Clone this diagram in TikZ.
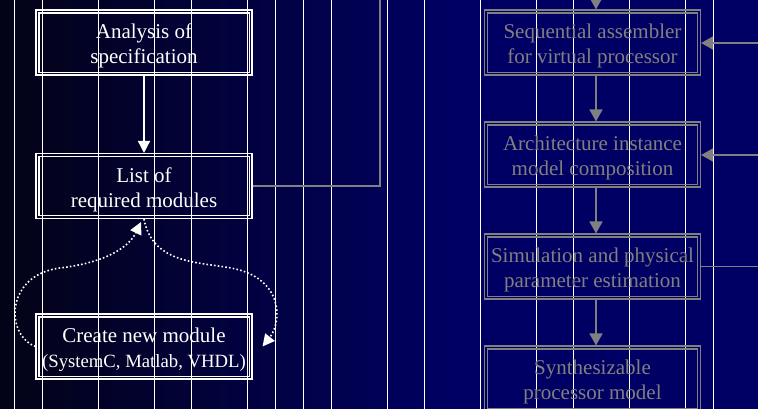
\documentclass[tikz,border=0pt]{standalone}
\usepackage{fontspec}
\setmainfont{Liberation Serif}
\usetikzlibrary{arrows.meta,calc}
\definecolor{bgleft}{RGB}{3,3,22}
\definecolor{bgright}{RGB}{0,0,100}
\definecolor{grayline}{RGB}{128,128,128}

\begin{document}
\begin{tikzpicture}[x=1pt,y=-1pt,
  box/.style={minimum width=216pt, minimum height=65pt, inner sep=0pt, line width=1.1pt},
  btext/.style={align=center, font=\fontsize{21}{25}\selectfont, yshift=-3.5pt},
  wbox/.style={box, draw=white},
  gbox/.style={box, draw=grayline},
  wtxt/.style={btext, text=white},
  gtxt/.style={btext, text=grayline},
  warrow/.style={white, line width=1.5pt, -{Triangle[length=12pt,width=12pt]}},
  garrow/.style={grayline, line width=1.6pt, -{Triangle[length=12pt,width=13pt]}},
  gline/.style={grayline, line width=1.5pt},
  dotarrow/.style={white, line width=1.6pt, dash pattern=on 1.6pt off 2.2pt,
    -{Triangle[length=12pt,width=12pt]}},
  rule/.style={white, line width=0.8pt}]

% canvas and background
\clip (0,0) rectangle (758,408);
\useasboundingbox (0,0) rectangle (758,408);
\shade[left color=bgleft, right color=bgright] (-5,-5) rectangle (460,415);
\fill[bgright] (459,-5) rectangle (765,415);

% thin vertical rules
\foreach \x in {14,42,98,154,191,247,275,303,331,387,424,480,536,573,629,685,713}
  \draw[rule] (\x,-5) -- (\x,415);

% left column
\node[wbox, label={[wtxt]center:{Analysis of\\specification}}] (ana) at (144,42.5) {};
\node[wbox, label={[wtxt]center:{List of\\required modules}}] (lst) at (144,186) {};
\node[wbox, label={[wtxt]center:{Create new module\\\fontsize{18.7}{23}\selectfont (SystemC, Matlab, VHDL)}}] (cre) at (144,346.5) {};

% right column
\node[gbox, label={[gtxt]center:{Sequential assembler\\for virtual processor}}] (seq) at (592.5,42.5) {};
\node[gbox, label={[gtxt]center:{Architecture instance\\model composition}}] (arc) at (592.5,154.5) {};
\node[gbox, label={[gtxt]center:{Simulation and physical\\parameter estimation}}] (sim) at (592.5,266.5) {};
\node[gbox, label={[gtxt]center:{Synthesizable\\processor model}}] (syn) at (592.5,378.5) {};

% inner frames of the double borders
\foreach \n in {ana,lst,cre}
  \draw[white, line width=1.1pt] ([shift={(3.5pt,-3.5pt)}]\n.north west) rectangle ([shift={(-3.5pt,3.5pt)}]\n.south east);
\foreach \n in {seq,arc,sim,syn}
  \draw[grayline, line width=1.1pt] ([shift={(3.5pt,-3.5pt)}]\n.north west) rectangle ([shift={(-3.5pt,3.5pt)}]\n.south east);

% connectors, left
\draw[warrow] (ana) -- (lst);
\coordinate (ltop) at (380,-5);
\draw[gline] (lst.east) -| (ltop);
\draw[dotarrow] (cre.west) .. controls (5,335) and (5,275) .. (60,268)
  .. controls (110,262) and (130,245) .. ([shift={(-3pt,-3pt)}]lst.south);
\draw[dotarrow] (lst.south) .. controls (152,262) and (195,262) .. (225,267)
  .. controls (285,275) and (282,322) .. ([xshift=10pt]cre.east);

% connectors, right
\coordinate (intop) at (596,-20);
\coordinate (r1) at (762,43);
\coordinate (r2) at (762,155);
\coordinate (r3) at (762,267);
\draw[garrow] (intop) -- ([xshift=3.5pt]seq.north);
\draw[garrow] ([xshift=3.5pt]seq.south) -- ([xshift=3.5pt]arc.north);
\draw[garrow] ([xshift=3.5pt]arc.south) -- ([xshift=3.5pt]sim.north);
\draw[garrow] ([xshift=3.5pt]sim.south) -- ([xshift=3.5pt]syn.north);
\draw[garrow] (r1) -- (r1 -| seq.east);
\draw[garrow] (r2) -- (r2 -| arc.east);
\draw[gline] (sim.east) -- (r3 |- sim.east);
\end{tikzpicture}
\end{document}
